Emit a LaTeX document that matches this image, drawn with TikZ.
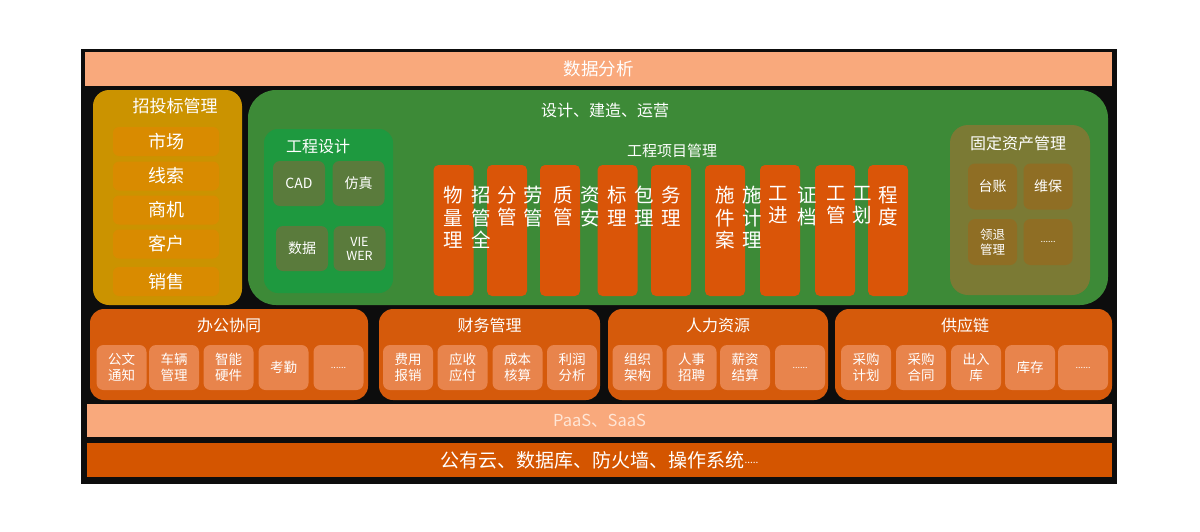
\documentclass[tikz,border=0pt]{standalone}
\usepackage{fontspec}
\setmainfont{Noto Sans CJK SC}
\usetikzlibrary{positioning}
\definecolor{night}{HTML}{0D0D0D}
\definecolor{peach}{HTML}{F9A97C}
\definecolor{peachtext}{HTML}{FFE6D6}
\definecolor{rust}{HTML}{D45500}
\definecolor{pillarred}{HTML}{DA5508}
\definecolor{gold}{HTML}{CB9300}
\definecolor{goldin}{HTML}{D98B00}
\definecolor{leaf}{HTML}{3D8A37}
\definecolor{leafhi}{HTML}{1E993F}
\definecolor{moss}{HTML}{5A7B3C}
\definecolor{olivebox}{HTML}{7B7A34}
\definecolor{olivein}{HTML}{8F6E24}
\definecolor{tang}{HTML}{D55A0B}
\definecolor{tangin}{HTML}{E8844C}

\begin{document}
\begin{tikzpicture}[x=1pt,y=-1pt,font=\fontsize{14}{16}\selectfont,text=white,
     band/.style={inner sep=0pt,minimum width=1025pt,minimum height=34pt},
     pane/.style={inner sep=0pt},
     leadcell/.style={fill=goldin,rounded corners=6pt,inner sep=0pt,minimum width=106pt,minimum height=29pt,font=\fontsize{18}{20}\selectfont},
     designcell/.style={fill=moss,rounded corners=7pt,inner sep=0pt,minimum width=52pt,minimum height=45pt,align=center},
     assetcell/.style={fill=olivein,rounded corners=7pt,inner sep=0pt,minimum width=49pt,minimum height=46pt,align=center},
     pillar/.style={fill=pillarred,rounded corners=5pt,inner sep=0pt,minimum width=40pt,minimum height=131pt},
     pillartext/.style={anchor=north,inner sep=0pt,align=center,font=\fontsize{19.5}{22.5}\selectfont},
     suite/.style={fill=tang,rounded corners=14pt,inner sep=0pt,minimum height=91pt},
     suitecell/.style={fill=tangin,rounded corners=7pt,inner sep=0pt,minimum width=50pt,minimum height=45pt,align=center,font=\fontsize{13.5}{16}\selectfont},
     heading/.style={inner sep=0pt,font=\fontsize{16}{18}\selectfont}]
    \useasboundingbox (0,0) rectangle (1200,531);
    \fill[white] (0,0) rectangle (1200,531);
    \fill[night] (81,49) rectangle (1117,484);

    \node[band,fill=peach,minimum width=1027pt](top) at (598.5,69){\fontsize{17.5}{18}\selectfont 数据分析};
    \node[band,fill=peach,minimum height=33pt,text=peachtext](paas) at (599.5,420.5){\fontsize{16.5}{17}\selectfont PaaS、SaaS};
    \node[band,fill=rust](infra) at (599.5,460){\fontsize{19}{20}\selectfont 公有云、数据库、防火墙、操作系统\raisebox{0.35ex}{\fontsize{10}{10}\selectfont .....}};

    \node[pane,fill=gold,rounded corners=16pt,minimum width=149pt,minimum height=215pt](lead) at (167.5,197.5){};
    \node[heading,font=\fontsize{17}{18}\selectfont](leadhead) at (175,106){招投标管理};
    \foreach \ly/\lt [count=\i] in {141.5/市场,176/线索,210/商机,244/客户,281.5/销售}
      \node[leadcell](lc\i) at (166,\ly){\lt};

    \node[pane,fill=leaf,rounded corners=28pt,minimum width=860pt,minimum height=215pt](build) at (678,197.5){};
    \node[heading](buildhead) at (605,110){设计、建造、运营};

    \node[pane,fill=leafhi,rounded corners=14pt,minimum width=129pt,minimum height=164pt](design) at (328.5,211){};
    \node[heading](designhead) at (318,146){工程设计};
    \node[designcell](cad) at (299,183.5){CAD}; \node[designcell](sim) at (358.5,183.5){仿真};
    \node[designcell](data) at (302,248.5){数据};
    \node[designcell,font=\fontsize{12.5}{14}\selectfont](viewer) at (359.5,248.5){VIE\\WER};

    \node[heading,font=\fontsize{15}{17}\selectfont](projhead) at (672,151){工程项目管理};
    \foreach \px [count=\i] in {453.5,507,560,617.5,671,725,780,835,888}
      \node[pillar](p\i) at (\px,230.5){};
    \foreach \tx/\tc [count=\i] in {453/{物\\量\\理},481/{招\\管\\全},507/{分\\管},533/{劳\\管},563/{质\\管},
        590/{资\\安},617/{标\\理},644/{包\\理},671/{务\\理},725/{施\\件\\案},752/{施\\计\\理},
        778/{工\\进},807/{证\\档},836/{工\\管},862/{工\\划},888/{程\\度}}
      \node[pillartext](pt\i) at (\tx,186){\tc};

    \node[pane,fill=olivebox,rounded corners=18pt,minimum width=140pt,minimum height=170pt](asset) at (1020,210){};
    \node[heading](assethead) at (1018,143){固定资产管理};
    \node[assetcell](ledger) at (992.5,186.5){台账}; \node[assetcell](repair) at (1048,186.5){维保};
    \node[assetcell,font=\fontsize{12.5}{15}\selectfont](lend) at (992.5,242){领退\\管理};
    \node[assetcell,font=\fontsize{9}{10}\selectfont](amore) at (1048,242){......};

    \node[suite,minimum width=278pt](office) at (229,354.5){};
    \node[suite,minimum width=221pt](finance) at (489.5,354.5){};
    \node[suite,minimum width=220pt](hr) at (718,354.5){};
    \node[suite,minimum width=277pt](supply) at (973.5,354.5){};
    \node[heading](officehead) at (229,325){办公协同}; \node[heading](financehead) at (489.5,325){财务管理};
    \node[heading](hrhead) at (718,325){人力资源}; \node[heading](supplyhead) at (965,325){供应链};
    \foreach \sx/\st [count=\i] in {121.5/{公文\\通知},174/{车辆\\管理},228.5/{智能\\硬件},283.5/考勤,
        408/{费用\\报销},462.5/{应收\\应付},517.5/{成本\\核算},572/{利润\\分析},
        637.5/{组织\\架构},691.5/{人事\\招聘},745/{薪资\\结算},
        866/{采购\\计划},921/{采购\\合同},976/{出入\\库},1030/库存}
      \node[suitecell](sc\i) at (\sx,367.5){\st};
    \foreach \sx [count=\i] in {338.5,800,1083}
      \node[suitecell,font=\fontsize{9}{10}\selectfont](more\i) at (\sx,367.5){......};
  \end{tikzpicture}
\end{document}
